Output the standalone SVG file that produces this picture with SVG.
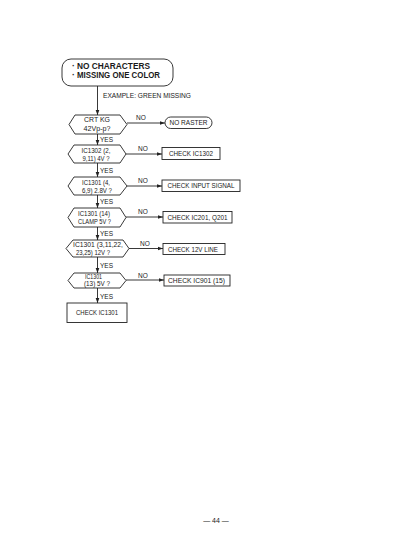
<svg xmlns="http://www.w3.org/2000/svg" width="400" height="553" viewBox="0 0 400 553">
<style>
text{font-family:"Liberation Sans",Arial,sans-serif;fill:#1a1a1a}
.t{font-size:6.5px;text-anchor:middle}
.l{font-size:6.5px}
.h{font-size:8.5px;font-weight:bold}
.s{fill:none;stroke:#222;stroke-width:0.9}
.b{fill:#fff;stroke:#222;stroke-width:0.9}
</style>
<defs>
<marker id="a" viewBox="0 0 6 6" refX="6" refY="3" markerWidth="5" markerHeight="5" orient="auto" markerUnits="userSpaceOnUse"><path d="M0,0.8 L6,3 L0,5.2 Z" fill="#222"/></marker>
</defs>
<rect width="400" height="553" fill="#fff"/>
<g id="connectors">
<path class="s" d="M97.5,86 V98 V115" marker-end="url(#a)"/>
<path class="s" d="M97.5,134 V145" marker-end="url(#a)"/>
<path class="s" d="M97.5,163 V177" marker-end="url(#a)"/>
<path class="s" d="M97.5,195 V208" marker-end="url(#a)"/>
<path class="s" d="M97.5,227 V240" marker-end="url(#a)"/>
<path class="s" d="M97.5,257 V273" marker-end="url(#a)"/>
<path class="s" d="M97.5,288 V303" marker-end="url(#a)"/>
<path class="s" d="M127,123 H165" marker-end="url(#a)"/>
<path class="s" d="M126,154 H162" marker-end="url(#a)"/>
<path class="s" d="M127,186 H162" marker-end="url(#a)"/>
<path class="s" d="M126,217 H163" marker-end="url(#a)"/>
<path class="s" d="M129,248.5 H163" marker-end="url(#a)" stroke-width="1.4"/>
<path class="s" d="M126,280 H164" marker-end="url(#a)"/>
<text class="l" x="103" y="98" textLength="88" lengthAdjust="spacingAndGlyphs">EXAMPLE: GREEN MISSING</text>
<text class="l" x="136" y="120">NO</text>
<text class="l" x="100" y="142">YES</text>
<text class="l" x="138" y="151">NO</text>
<text class="l" x="100" y="172.5">YES</text>
<text class="l" x="138" y="183">NO</text>
<text class="l" x="100" y="203.5">YES</text>
<text class="l" x="138" y="214">NO</text>
<text class="l" x="100" y="235.5">YES</text>
<text class="l" x="140" y="246">NO</text>
<text class="l" x="100" y="267.5">YES</text>
<text class="l" x="138" y="278">NO</text>
<text class="l" x="100" y="298.5">YES</text>
</g>
<g id="start">
<rect class="b" x="62" y="59" width="111" height="27" rx="9"/>
<text class="h" x="72" y="68.5">·</text>
<text class="h" x="77" y="68.5" textLength="73" lengthAdjust="spacingAndGlyphs">NO CHARACTERS</text>
<text class="h" x="72" y="78">·</text>
<text class="h" x="77" y="78" textLength="83" lengthAdjust="spacingAndGlyphs">MISSING ONE COLOR</text>
</g>
<g id="q1">
<polygon class="b" points="69,124.5 75,115 120,115 127,124.5 120,134 75,134"/>
<text class="t" x="97" y="122" textLength="26" lengthAdjust="spacingAndGlyphs">CRT KG</text>
<text class="t" x="97" y="130.5" textLength="27" lengthAdjust="spacingAndGlyphs">42Vp-p?</text>
</g>
<g id="r1">
<rect class="b" x="165" y="117" width="47" height="11.5" rx="5.75"/>
<text class="t" x="188.5" y="125" textLength="38" lengthAdjust="spacingAndGlyphs">NO RASTER</text>
</g>
<g id="q2">
<polygon class="b" points="68,154 74,145 120,145 126,154 120,163 74,163"/>
<text class="t" x="96" y="153" textLength="29" lengthAdjust="spacingAndGlyphs">IC1302 (2,</text>
<text class="t" x="96" y="160.5" textLength="27" lengthAdjust="spacingAndGlyphs">9,11) 4V ?</text>
</g>
<g id="r2">
<rect class="b" x="162" y="147.5" width="58" height="12"/>
<text class="t" x="191" y="156" textLength="44" lengthAdjust="spacingAndGlyphs">CHECK IC1302</text>
</g>
<g id="q3">
<polygon class="b" points="68,186 74,177 120,177 127,186 120,195 74,195"/>
<text class="t" x="96" y="184.5" textLength="28" lengthAdjust="spacingAndGlyphs">IC1301 (4,</text>
<text class="t" x="97" y="192.5" textLength="30" lengthAdjust="spacingAndGlyphs">6,9) 2.8V ?</text>
</g>
<g id="r3">
<rect class="b" x="162" y="180" width="78" height="11.5"/>
<text class="t" x="201" y="188.3" textLength="67" lengthAdjust="spacingAndGlyphs">CHECK INPUT SIGNAL</text>
</g>
<g id="q4">
<polygon class="b" points="68,217.5 74,208 120,208 126,217.5 120,227 74,227"/>
<text class="t" x="94" y="215.5" textLength="32" lengthAdjust="spacingAndGlyphs">IC1301 (14)</text>
<text class="t" x="94.5" y="224" textLength="33" lengthAdjust="spacingAndGlyphs">CLAMP 5V ?</text>
</g>
<g id="r4">
<rect class="b" x="163" y="211.5" width="69" height="11.5"/>
<text class="t" x="197.5" y="219.8" textLength="60" lengthAdjust="spacingAndGlyphs">CHECK IC201, Q201</text>
</g>
<g id="q5">
<polygon class="b" points="66,248.5 73,240 123,240 129,248.5 123,257 73,257"/>
<text class="t" x="98" y="246.5" textLength="50" lengthAdjust="spacingAndGlyphs">IC1301 (3,11,22,</text>
<text class="t" x="93" y="254.5" textLength="34" lengthAdjust="spacingAndGlyphs">23,25) 12V ?</text>
</g>
<g id="r5">
<rect class="b" x="163" y="243.5" width="62" height="11"/>
<text class="t" x="193" y="251.5" textLength="50" lengthAdjust="spacingAndGlyphs">CHECK 12V LINE</text>
</g>
<g id="q6">
<polygon class="b" points="68,280.5 74,273 120,273 126,280.5 120,288 74,288"/>
<text class="t" x="93.5" y="279" textLength="17" lengthAdjust="spacingAndGlyphs">IC1301</text>
<text class="t" x="97" y="286" textLength="26" lengthAdjust="spacingAndGlyphs">(13) 5V ?</text>
</g>
<g id="r6">
<rect class="b" x="164" y="275" width="66" height="11"/>
<text class="t" x="196.5" y="283" textLength="57" lengthAdjust="spacingAndGlyphs">CHECK IC901 (15)</text>
</g>
<g id="end">
<rect class="b" x="67" y="303" width="60" height="19.5"/>
<text class="t" x="97" y="315" textLength="42" lengthAdjust="spacingAndGlyphs">CHECK IC1301</text>
</g>
<text x="216" y="523" font-size="7" text-anchor="middle" fill="#444">— 44 —</text>
</svg>
